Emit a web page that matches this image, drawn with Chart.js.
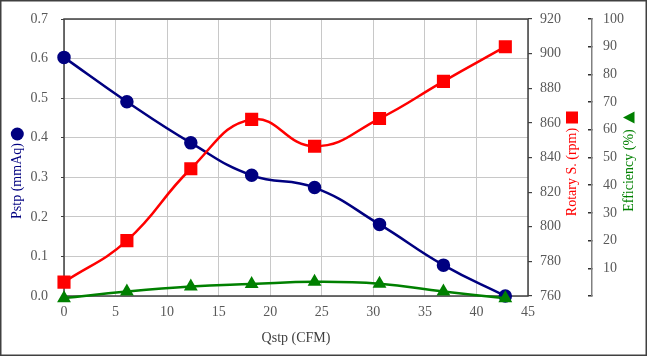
<!DOCTYPE html>
<html>
<head>
<meta charset="utf-8">
<script src="https://cdn.jsdelivr.net/npm/chart.js@4/dist/chart.umd.min.js"></script>
<style>
html,body{margin:0;padding:0;background:#fff;}
#wrap{width:647px;height:356px;position:relative;}
</style>
</head>
<body>
<div id="wrap"><canvas id="c" width="647" height="356"></canvas></div>
<script>
// ---- data ----
const qstp = [0, 6.1, 12.3, 18.2, 24.3, 30.6, 36.8, 42.8];
const pstp = [0.603, 0.491, 0.387, 0.305, 0.274, 0.181, 0.078, 0.0];
const rotarySpeed = [768, 792, 833.5, 862, 846.5, 862.5, 884, 904];
const efficiency = [-0.8, 1.6, 3.4, 4.3, 5.1, 4.4, 1.6, -0.8];
const xTicks = [0, 5, 10, 15, 20, 25, 30, 35, 40, 45];
const pstpTicks = [0.0, 0.1, 0.2, 0.3, 0.4, 0.5, 0.6, 0.7];
const rpmTicks = [760, 780, 800, 820, 840, 860, 880, 900, 920];
const effTicks = [0, 10, 20, 30, 40, 50, 60, 70, 80, 90, 100];
const xTitle = 'Qstp (CFM)';
const pstpTitle = 'Pstp (mmAq)';
const rpmTitle = 'Rotary S. (rpm)';
const effTitle = 'Efficiency (%)';

const FONT = 'Liberation Serif';
const TICK_COLOR = '#595959';
const GRID = '#c8c8c8';
const NAVY = '#000080', RED = '#ff0000', GREEN = '#008000';

const pts = (ys) => qstp.map((x, i) => ({x: x, y: ys[i]}));
const noPad = (s) => { s.paddingTop = 0; s.paddingBottom = 0; s.paddingLeft = 0; s.paddingRight = 0; };

const deco = {
  id: 'deco',
  beforeDraw(chart) {
    const ctx = chart.ctx;
    ctx.save();
    ctx.fillStyle = '#fff';
    ctx.fillRect(0, 0, chart.width, chart.height);
    ctx.restore();
  },
  beforeDatasetsDraw(chart) {
    const ctx = chart.ctx, a = chart.chartArea;
    ctx.save();
    ctx.strokeStyle = '#404040';
    ctx.lineWidth = 1.5;
    ctx.strokeRect(a.left, a.top, a.right - a.left, a.bottom - a.top);
    ctx.restore();
  },
  afterDraw(chart) {
    const ctx = chart.ctx, a = chart.chartArea;
    ctx.save();
    // outer border
    ctx.strokeStyle = '#404040';
    ctx.lineWidth = 1.5;
    ctx.strokeRect(0.75, 0.75, chart.width - 1.5, chart.height - 1.5);
    ctx.font = '14px "' + FONT + '"';
    ctx.textAlign = 'center';
    ctx.textBaseline = 'middle';
    // x title
    ctx.fillStyle = '#404040';
    ctx.fillText(xTitle, (a.left + a.right) / 2, 338);
    const rot = (x, y, t, c) => {
      ctx.save(); ctx.translate(x, y); ctx.rotate(-Math.PI / 2);
      ctx.fillStyle = c; ctx.fillText(t, 0, 0); ctx.restore();
    };
    rot(17, 181, pstpTitle, NAVY);
    ctx.fillStyle = NAVY;
    ctx.beginPath(); ctx.arc(17.3, 134, 6.5, 0, Math.PI * 2); ctx.fill();
    rot(572.5, 172, rpmTitle, RED);
    ctx.fillStyle = RED;
    ctx.fillRect(566, 111.5, 12, 12);
    rot(629.5, 170.5, effTitle, GREEN);
    ctx.fillStyle = GREEN;
    ctx.beginPath(); ctx.moveTo(623, 117.5); ctx.lineTo(634.5, 111.5); ctx.lineTo(634.5, 123.5); ctx.closePath(); ctx.fill();
    ctx.restore();
  }
};

new Chart(document.getElementById('c'), {
  type: 'line',
  data: {
    datasets: [
      {label: 'Efficiency', data: pts(efficiency), yAxisID: 'yE', order: 0,
       borderColor: GREEN, backgroundColor: GREEN, borderWidth: 2.5,
       pointStyle: 'triangle', pointRadius: 5.5, pointHoverRadius: 5.5, tension: 0.45, clip: false},
      {label: 'Rotary S.', data: pts(rotarySpeed), yAxisID: 'yR', order: 1,
       borderColor: RED, backgroundColor: RED, borderWidth: 2.5,
       pointStyle: 'rect', pointRadius: 7.5, pointHoverRadius: 7.5, tension: 0.45, clip: false},
      {label: 'Pstp', data: pts(pstp), yAxisID: 'y', order: 2,
       borderColor: NAVY, backgroundColor: NAVY, borderWidth: 2.5,
       pointStyle: 'circle', pointRadius: 5.5, pointHoverRadius: 5.5, tension: 0.45, clip: false}
    ]
  },
  options: {
    responsive: false,
    animation: false,
    events: [],
    layout: {padding: {top: 19, left: 0, right: 0, bottom: 0}},
    plugins: {legend: {display: false}, tooltip: {enabled: false}},
    scales: {
      x: {
        type: 'linear', position: 'bottom', min: xTicks[0], max: xTicks[xTicks.length - 1],
        afterBuildTicks: (s) => { s.ticks = xTicks.map(v => ({value: v})); },
        ticks: {font: {family: FONT, size: 14}, color: TICK_COLOR, padding: 8, maxRotation: 0},
        grid: {color: GRID, lineWidth: 1, drawTicks: false},
        border: {display: false},
        afterFit: (s) => { s.height = 60; noPad(s); }
      },
      y: {
        position: 'left', min: pstpTicks[0], max: pstpTicks[pstpTicks.length - 1],
        afterBuildTicks: (s) => { s.ticks = pstpTicks.map(v => ({value: v})); },
        ticks: {font: {family: FONT, size: 14}, color: TICK_COLOR, padding: 13,
                callback: (v) => Number(v).toFixed(1)},
        grid: {color: GRID, lineWidth: 1, tickLength: 3, tickColor: '#404040'},
        border: {display: false},
        afterFit: (s) => { s.width = 64; noPad(s); }
      },
      yR: {
        position: 'right', weight: 0, min: rpmTicks[0], max: rpmTicks[rpmTicks.length - 1],
        afterBuildTicks: (s) => { s.ticks = rpmTicks.map(v => ({value: v})); },
        ticks: {font: {family: FONT, size: 14}, color: TICK_COLOR, padding: 8},
        grid: {drawOnChartArea: false, tickLength: 4, tickColor: '#404040', lineWidth: 1.2},
        border: {display: false},
        afterFit: (s) => { s.width = 64; noPad(s); }
      },
      yE: {
        position: 'right', weight: 1, min: effTicks[0], max: effTicks[effTicks.length - 1],
        afterBuildTicks: (s) => { s.ticks = effTicks.map(v => ({value: v})); },
        ticks: {font: {family: FONT, size: 14}, color: TICK_COLOR, padding: 15,
                callback: (v) => v === 0 ? '' : String(v)},
        grid: {drawOnChartArea: false, tickLength: -4, tickColor: '#303030', lineWidth: 1.5},
        border: {display: true, color: '#808080', width: 1.5},
        afterFit: (s) => { s.width = 55; noPad(s); }
      }
    }
  },
  plugins: [deco]
});
</script>
</body>
</html>
